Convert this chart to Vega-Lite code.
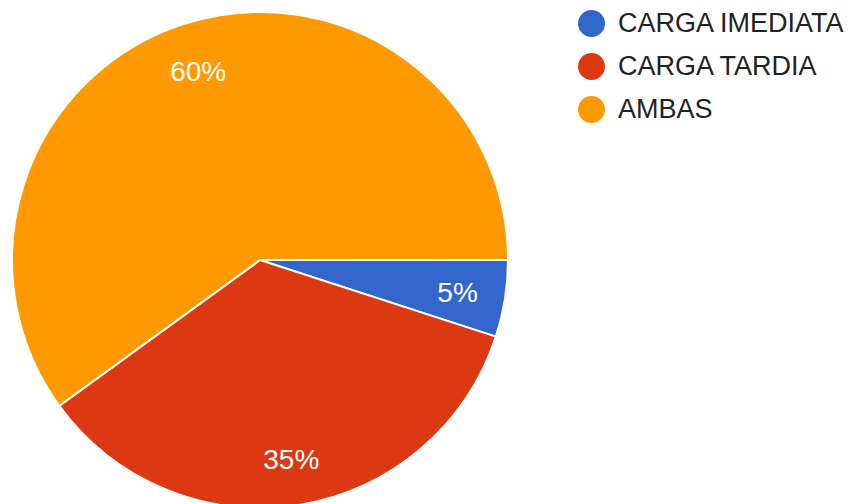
{
  "$schema": "https://vega.github.io/schema/vega-lite/v6.json",
  "width": 520,
  "height": 520,
  "autosize": "none",
  "padding": {"left": 0, "top": 0, "right": 333, "bottom": 0},
  "background": "white",
  "config": {"view": {"stroke": null}, "font": "Liberation Sans"},
  "data": {
    "values": [
      {"categoria": "CARGA IMEDIATA", "valor": 5, "rotulo": "5%", "ordem": 1},
      {"categoria": "CARGA TARDIA", "valor": 35, "rotulo": "35%", "ordem": 2},
      {"categoria": "AMBAS", "valor": 60, "rotulo": "60%", "ordem": 3}
    ]
  },
  "encoding": {
    "theta": {"field": "valor", "type": "quantitative", "stack": true, "scale": {"range": [1.5707963, 7.8539816]}},
    "order": {"field": "ordem", "type": "quantitative"},
    "color": {
      "field": "categoria",
      "type": "nominal",
      "scale": {"domain": ["CARGA IMEDIATA", "CARGA TARDIA", "AMBAS"], "range": ["#3366cc", "#dc3912", "#ff9900"]},
      "legend": {
        "title": null,
        "orient": "none",
        "legendX": 578,
        "legendY": 10,
        "padding": 0,
        "symbolType": "circle",
        "symbolSize": 729,
        "symbolStrokeWidth": 0,
        "labelFontSize": 27,
        "labelColor": "#222222",
        "labelFont": "Liberation Sans",
        "labelOffset": 13,
        "rowPadding": 15,
        "labelLimit": 400
      }
    }
  },
  "layer": [
    {"mark": {"type": "arc", "outerRadius": 248, "stroke": "white", "strokeWidth": 2}},
    {
      "mark": {"type": "text", "radius": 200, "fontSize": 28, "fill": "white", "font": "Liberation Sans", "align": "center", "baseline": "middle", "dy": 3},
      "encoding": {"text": {"field": "rotulo", "type": "nominal"}, "color": {"value": "white"}}
    }
  ]
}
